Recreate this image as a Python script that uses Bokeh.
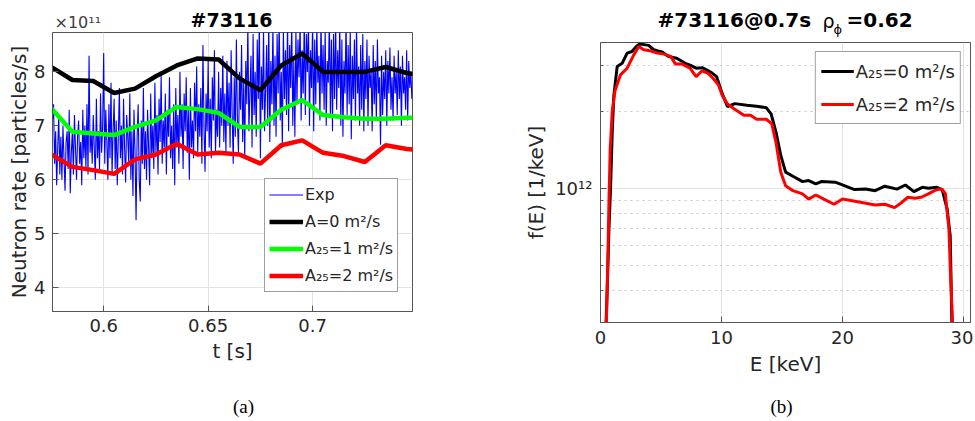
import numpy as np
from bokeh.plotting import figure
from bokeh.layouts import row, column
from bokeh.models import (Range1d, Legend, LegendItem, FixedTicker,
                          CustomJSTickFormatter)
from bokeh.core.properties import value
from bokeh.embed import file_html
from bokeh.resources import INLINE

FONT = "DejaVu Sans"
SERIF = "Liberation Serif"
TXT = "#262626"
AXC = "#555555"

# ---------------- panel (a): neutron rate (units of 1e11 particles/s) ----------------
t_sim = [0.575, 0.585, 0.595, 0.605, 0.615, 0.625, 0.635, 0.645, 0.655, 0.665,
         0.675, 0.685, 0.695, 0.705, 0.715, 0.725, 0.735, 0.745, 0.748]
rate_A0 = [8.09, 7.85, 7.83, 7.61, 7.69, 7.92, 8.12, 8.25, 8.23, 7.88,
           7.66, 8.12, 8.34, 8.00, 8.00, 8.00, 8.09, 7.98, 7.96]
rate_A25_1 = [7.32, 6.89, 6.86, 6.83, 6.98, 7.10, 7.35, 7.31, 7.24, 6.98,
              6.98, 7.30, 7.48, 7.20, 7.16, 7.13, 7.13, 7.15, 7.15]
rate_A25_2 = [6.47, 6.24, 6.18, 6.11, 6.38, 6.47, 6.67, 6.47, 6.50, 6.47,
              6.30, 6.64, 6.73, 6.50, 6.44, 6.33, 6.64, 6.57, 6.56]

exp_t0 = 0.5755
exp_dt = 0.0005
exp_rate = [
    7.1, 7.4, 6.3, 6.9, 5.9, 6.6, 7.2, 6.1, 6.8, 6.0, 7.0, 6.4, 5.8, 6.7, 6.9,
    6.2, 7.3, 5.75, 6.5, 6.9, 6.1, 7.2, 6.6, 6.0, 6.8, 7.1, 6.3, 6.7, 5.9, 7.3,
    6.4, 7.0, 6.2, 7.4, 6.1, 8.3, 6.5, 6.9, 6.3, 7.2, 6.6, 6.0, 7.5, 6.4, 6.9,
    6.2, 7.6, 6.5, 7.0, 8.35, 6.3, 7.3, 6.7, 6.0, 7.4, 6.4, 7.8, 6.1, 6.9, 7.5,
    6.2, 7.1, 5.9, 6.8, 7.7, 6.4, 7.0, 6.1, 7.5, 6.6, 5.95, 7.2, 6.8, 6.3, 7.6,
    6.0, 6.9, 5.7, 7.3, 6.5, 5.25, 6.8, 7.4, 6.0, 5.6, 7.1, 6.3, 7.7, 6.2, 6.9,
    6.0, 7.3, 6.6, 5.9, 7.6, 6.4, 7.0, 6.2, 7.8, 6.5, 7.2, 6.1, 7.5, 6.7, 7.97,
    6.3, 7.1, 6.6, 7.6, 6.1, 7.3, 6.8, 7.9, 6.4, 7.0, 6.2, 7.4, 5.9, 7.7, 6.6,
    7.2, 6.3, 8.0, 6.8, 7.4, 6.2, 7.6, 6.9, 7.9, 6.5, 7.3, 6.0, 7.7, 6.6, 7.1,
    6.4, 7.8, 6.9, 8.1, 6.5, 7.4, 6.8, 7.7, 6.3, 8.5, 7.0, 6.15, 7.6, 6.9, 8.2,
    6.6, 7.5, 6.4, 7.9, 7.1, 8.4, 6.5, 7.3, 6.8, 8.0, 6.6, 7.7, 7.0, 8.3, 6.7,
    7.6, 6.5, 8.2, 7.0, 7.8, 6.6, 8.4, 7.2, 6.3, 7.9, 6.8, 8.6, 7.1, 6.5, 8.0,
    7.3, 8.5, 6.7, 7.8, 6.4, 8.2, 7.4, 8.9, 6.9, 7.6, 8.3, 6.6, 8.7, 7.2, 8.0,
    6.8, 8.6, 7.5, 9.0, 6.4, 8.1, 7.3, 8.8, 6.9, 7.7, 8.5, 7.0, 9.0, 6.7, 8.2,
    7.4, 8.9, 7.0, 8.3, 6.8, 8.7, 7.6, 9.0, 7.1, 8.0, 6.6, 8.8, 7.5, 8.4, 7.2,
    9.0, 6.9, 8.5, 7.7, 9.0, 7.0, 8.2, 6.8, 8.8, 7.4, 8.6, 7.9, 9.0, 7.1, 8.4,
    7.6, 9.0, 7.2, 8.7, 8.0, 9.0, 7.0, 8.4, 7.7, 9.0, 6.9, 8.6, 7.4, 8.9, 7.8,
    8.3, 7.1, 9.0, 7.6, 8.5, 7.3, 8.8, 7.0, 8.2, 7.8, 9.0, 7.2, 8.6, 6.9, 8.7,
    7.5, 9.0, 7.3, 8.4, 7.7, 8.9, 7.0, 8.6, 6.8, 8.2, 7.6, 9.0, 7.2, 8.5, 7.4,
    8.8, 6.75, 8.3, 7.5, 8.6, 7.1, 8.9, 7.6, 8.1, 7.0, 8.5, 7.3, 8.7, 6.9, 8.2,
    7.5, 8.6, 7.0, 8.3, 7.7, 8.0, 6.9, 8.5, 7.4, 8.2, 7.1, 8.6, 7.6, 7.9, 6.65,
    8.3, 7.2, 8.0, 7.5, 8.4, 7.0, 8.2, 7.6, 8.45, 7.3, 7.9, 7.1, 8.3, 7.6, 8.0,
    7.2, 8.4, 7.5, 8.1, 7.0, 8.3, 7.6, 7.9, 7.3, 8.4, 7.1, 8.2, 7.7, 8.0, 7.5,
]
exp_t = exp_t0 + exp_dt * np.arange(len(exp_rate))

t_ticks = [0.6, 0.65, 0.7]
rate_ticks = [4, 5, 6, 7, 8]

# ---------------- panel (b): f(E) (values in units of 1e12 /keV) ----------------
E_A0 = [0.40, 0.55, 0.69, 0.83, 0.97, 1.10, 1.38, 1.79, 2.2, 2.6, 3.0, 3.24, 3.6,
        3.98, 4.4, 4.75, 5.1, 5.6, 6.3, 7.0, 7.4, 7.9, 8.4, 8.8, 9.2, 9.6, 10.05,
        10.5, 11.1, 12.1, 12.9, 13.7, 14.1, 14.5, 14.9, 15.3, 15.9, 16.7, 17.2,
        17.8, 18.3, 19.4, 20.2, 21.0, 21.9, 22.7, 23.5, 24.5, 25.2, 25.9, 26.6,
        27.1, 27.8, 28.24, 28.65, 28.9, 29.03, 29.1]
f_A0 = [0.251, 0.398, 0.676, 1.000, 1.660, 2.291, 2.985, 3.069, 3.365, 3.412,
        3.589, 3.650, 3.630, 3.606, 3.467, 3.428, 3.396, 3.266, 3.214, 3.069,
        3.020, 2.938, 2.951, 2.891, 2.818, 2.723, 2.344, 2.080, 2.138, 2.109,
        2.089, 2.061, 1.950, 1.660, 1.343, 1.156, 1.114, 1.062, 1.072, 1.040,
        1.064, 1.057, 1.023, 0.989, 0.993, 0.979, 1.019, 0.993, 1.030, 0.971,
        1.009, 1.000, 1.009, 0.989, 0.830, 0.655, 0.321, 0.200]
E_A25_2 = [0.45, 0.62, 0.70, 0.80, 0.97, 1.2, 1.65, 2.2, 2.75, 3.16, 3.58, 4.1,
           4.7, 5.25, 5.8, 6.2, 6.75, 7.4, 7.9, 8.4, 8.9, 9.3, 9.75, 10.05, 10.47,
           11.0, 11.85, 12.4, 12.9, 13.7, 14.15, 14.5, 14.9, 15.3, 15.9, 16.7,
           17.2, 17.8, 18.3, 19.3, 20.0, 20.8, 21.6, 22.7, 23.5, 24.3, 24.9, 25.4,
           26.0, 26.5, 27.1, 27.6, 28.0, 28.24, 28.5, 28.8, 28.9, 29.1, 29.2]
f_A25_2 = [0.251, 0.562, 0.891, 1.413, 1.995, 2.399, 2.767, 2.938, 3.311, 3.573,
           3.467, 3.436, 3.365, 3.334, 3.266, 3.048, 3.048, 2.938, 2.723, 2.871,
           2.805, 2.685, 2.529, 2.312, 2.138, 2.046, 1.928, 1.928, 1.858, 1.858,
           1.786, 1.514, 1.156, 1.023, 0.979, 0.951, 0.908, 0.942, 0.916, 0.867,
           0.908, 0.895, 0.881, 0.861, 0.867, 0.841, 0.881, 0.923, 0.914, 0.923,
           0.951, 0.979, 0.993, 0.989, 0.955, 0.692, 0.501, 0.298, 0.200]
f_unit = 1e12
E_ticks = [0, 10, 20, 30]
f_major = [1e12]
f_minor = [4e11, 5e11, 6e11, 7e11, 8e11, 9e11, 2e12, 3e12]

# layout geometry (pixels)
W1, BL1, BR1 = 500, 52, 88
W2, BL2, BR2 = 473, 100, 3


def style(p):
    p.outline_line_color = AXC
    p.outline_line_width = 1
    p.background_fill_color = "white"
    p.border_fill_color = "white"
    for ax in p.axis:
        ax.axis_line_color = AXC
        ax.major_tick_line_color = AXC
        ax.major_tick_in = 6
        ax.major_tick_out = 0
        ax.minor_tick_line_color = None
        ax.major_label_text_font = FONT
        ax.major_label_text_font_size = "18px"
        ax.major_label_text_color = TXT
        ax.axis_label_text_font = FONT
        ax.axis_label_text_font_size = "20px"
        ax.axis_label_text_font_style = "normal"
        ax.axis_label_text_color = TXT
    p.grid.grid_line_color = "#e3e3e3"
    p.grid.grid_line_width = 1


def text_strip(w, h, bl, br):
    """Blank strip (no axes), same side borders as the plot below it, whose
    coordinates are pixels from the strip's top-left corner."""
    s = figure(width=w, height=h, output_backend="svg", toolbar_location=None,
               title=None, x_range=Range1d(bl, w - br), y_range=Range1d(h, 0),
               x_axis_location=None, y_axis_location=None,
               min_border_left=bl, min_border_right=br, min_border_top=0,
               min_border_bottom=0)
    s.outline_line_color = None
    s.grid.visible = False
    s.background_fill_color = "white"
    s.border_fill_color = "white"
    return s


def put_text(s, x, y, txt, size, font=FONT, style="normal", color="black",
             align="left"):
    s.text(x=[x], y=[y], text=[txt], text_font=value(font), text_font_size=size,
           text_font_style=style, text_color=color, text_align=align,
           text_baseline="middle")


# ---------------- figure (a) ----------------
top_a = text_strip(W1, 32, BL1, BR1)
put_text(top_a, 231, 19.5, "#73116", "19px", style="bold", align="center")
put_text(top_a, 54, 21.5, "\u00d710\u00b9\u00b9", "16px", color="#404040")

p1 = figure(width=W1, height=338, output_backend="svg", toolbar_location=None,
            title=None,
            x_range=Range1d(0.5755, 0.7478), y_range=Range1d(3.56, 8.73),
            min_border_left=BL1, min_border_right=BR1, min_border_top=0,
            min_border_bottom=59)
style(p1)
p1.xaxis.ticker = FixedTicker(ticks=t_ticks)
p1.yaxis.ticker = FixedTicker(ticks=rate_ticks)
p1.xaxis.formatter = CustomJSTickFormatter(code="return String(Math.round(tick*1000)/1000);")
p1.xaxis.axis_label = "t [s]"
p1.yaxis.axis_label = "Neutron rate [particles/s]"
p1.yaxis.major_label_standoff = 7
p1.yaxis.axis_label_standoff = 0
p1.xaxis.major_label_standoff = 7
p1.xaxis.axis_label_standoff = 4

r_exp = p1.line(exp_t, exp_rate, line_color="#0000ff", line_width=1.1)
r_a0 = p1.line(t_sim, rate_A0, line_color="black", line_width=4.5)
r_a1 = p1.line(t_sim, rate_A25_1, line_color="#00ff00", line_width=4.5)
r_a2 = p1.line(t_sim, rate_A25_2, line_color="#ff0000", line_width=4.5)

leg1 = Legend(items=[LegendItem(label="Exp", renderers=[r_exp]),
                     LegendItem(label="A=0 m\u00b2/s", renderers=[r_a0]),
                     LegendItem(label="A\u2082\u2085=1 m\u00b2/s", renderers=[r_a1]),
                     LegendItem(label="A\u2082\u2085=2 m\u00b2/s", renderers=[r_a2])],
              location=(212, 19))
leg1.label_text_font = FONT
leg1.label_text_font_size = "16px"
leg1.label_text_color = TXT
leg1.glyph_width = 34
leg1.glyph_height = 23
leg1.label_height = 23
leg1.label_standoff = 2
leg1.spacing = 4
leg1.padding = 4
leg1.margin = 0
leg1.border_line_color = "#404040"
leg1.border_line_width = 1
leg1.background_fill_color = "white"
leg1.background_fill_alpha = 1
p1.add_layout(leg1)

cap_a = text_strip(W1, 49, BL1, BR1)
put_text(cap_a, 243, 36, "(a)", "19px", font=SERIF, align="center")

# ---------------- figure (b) ----------------
top_b = text_strip(W2, 42, BL2, BR2)
put_text(top_b, 157, 19.7, "#73116@0.7s", "20px", style="bold")
put_text(top_b, 322, 20, "\u03c1", "19px")
put_text(top_b, 333, 29, "\u03d5", "13px")
put_text(top_b, 346, 19.7, "=0.62", "20px", style="bold")

p2 = figure(width=W2, height=336, output_backend="svg", toolbar_location=None,
            title=None,
            x_range=Range1d(0, 30.58), y_range=Range1d(0.30e12, 3.70e12),
            y_axis_type="log",
            min_border_left=BL2, min_border_right=BR2, min_border_top=0,
            min_border_bottom=56)
style(p2)
p2.xaxis.ticker = FixedTicker(ticks=E_ticks)
p2.yaxis.ticker = FixedTicker(ticks=f_major, minor_ticks=f_minor)
p2.yaxis.formatter = CustomJSTickFormatter(code="return '10\u00b9\u00b2';")
p2.yaxis.minor_tick_line_color = AXC
p2.yaxis.minor_tick_in = 3
p2.yaxis.minor_tick_out = 0
p2.ygrid.minor_grid_line_color = "#c8c8c8"
p2.ygrid.minor_grid_line_dash = "dotted"
p2.xaxis.axis_label = "E [keV]"
p2.yaxis.axis_label = "f(E) [1/keV]"
p2.yaxis.major_label_standoff = 8
p2.yaxis.axis_label_standoff = 4
p2.xaxis.major_label_standoff = 8
p2.xaxis.axis_label_standoff = 5

r_b0 = p2.line(E_A0, np.array(f_A0) * f_unit, line_color="black", line_width=3)
r_b2 = p2.line(E_A25_2, np.array(f_A25_2) * f_unit, line_color="#ff0000", line_width=3)

leg2 = Legend(items=[LegendItem(label="A\u2082\u2085=0 m\u00b2/s", renderers=[r_b0]),
                     LegendItem(label="A\u2082\u2085=2 m\u00b2/s", renderers=[r_b2])],
              location="top_right")
leg2.label_text_font = FONT
leg2.label_text_font_size = "18px"
leg2.label_text_color = TXT
leg2.glyph_width = 33
leg2.glyph_height = 28
leg2.label_height = 28
leg2.label_standoff = 2
leg2.spacing = 5
leg2.padding = 5
leg2.margin = 9
leg2.border_line_color = "#404040"
leg2.border_line_width = 1
leg2.background_fill_color = "white"
leg2.background_fill_alpha = 1
p2.add_layout(leg2)

cap_b = text_strip(W2, 41, BL2, BR2)
put_text(cap_b, 281, 28, "(b)", "19px", font=SERIF, align="center")

layout = row(column(top_a, p1, cap_a), column(top_b, p2, cap_b))
with open("out.html", "w", encoding="utf-8") as fh:
    fh.write(file_html(layout, INLINE))
